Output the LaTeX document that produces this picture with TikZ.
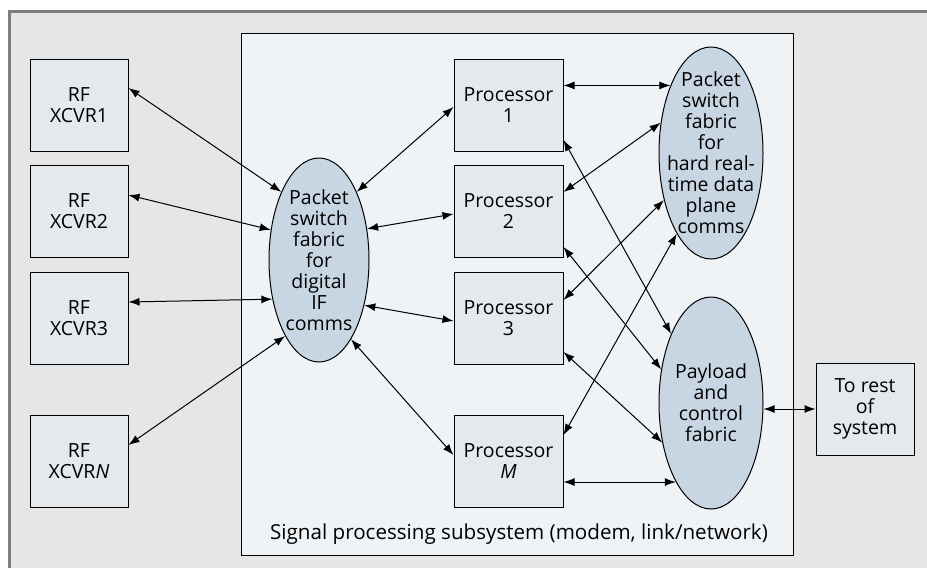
\documentclass[tikz,border=0pt]{standalone}
\usepackage{fontspec}
\setmainfont{Open Sans}
\usetikzlibrary{arrows.meta,shapes.geometric}
\definecolor{pagegray}{HTML}{E6E6E6}
\definecolor{framegray}{HTML}{7F7F7F}
\definecolor{subfill}{HTML}{EFF3F6}
\definecolor{boxfill}{HTML}{E4E9EE}
\definecolor{fabfill}{HTML}{C8D6E4}
\begin{document}
\begin{tikzpicture}[x=1pt,y=-1pt,
  font=\fontsize{19.5}{21}\selectfont,
  blk/.style={draw, fill=boxfill, minimum width=98pt, minimum height=92pt,
              inner sep=0pt, align=center, line width=1pt},
  procblk/.style={blk, minimum width=109pt},
  fab/.style={draw, ellipse, fill=fabfill, inner sep=0pt, line width=1pt},
  lbl/.style={align=center, inner sep=0pt},
  link/.style={{Latex[length=11pt,width=8pt]}-{Latex[length=11pt,width=8pt]},
               line width=1pt}]

\useasboundingbox (0,0) rectangle (927,568);

% page background with its frame on the top and left edges
\fill[pagegray] (9,11) rectangle (927,568);
\draw[framegray, line width=3pt] (9,568) -- (9,11) -- (927,11);

% signal processing subsystem
\node[draw, fill=subfill, minimum width=552pt, minimum height=522pt,
      inner sep=0pt, line width=1pt] (sub) at (517,294) {};
\node[lbl, font=\fontsize{20.6}{22}\selectfont] (sublbl) at (519,534)
  {Signal processing subsystem (modem, link/network)};

% RF transceivers
\node[blk] (rf1) at (79,105)   {RF\\XCVR1};
\node[blk] (rf2) at (79,211.5) {RF\\XCVR2};
\node[blk] (rf3) at (79,318)   {RF\\XCVR3};
\node[blk] (rfn) at (79,461.5) {RF\\XCVR\textit{N}};

% processors
\node[procblk] (p1) at (508.5,105)   {Processor\\1};
\node[procblk] (p2) at (508.5,211.5) {Processor\\2};
\node[procblk] (p3) at (508.5,318)   {Processor\\3};
\node[procblk] (pm) at (508.5,461.5) {Processor\\\textit{M}};

% fabrics
\node[fab, minimum width=100pt, minimum height=204pt] (ifc) at (319,260) {};
\node[lbl] (ifctxt) at (ifc) {Packet\\switch\\fabric\\for\\digital\\IF\\comms};

\node[fab, minimum width=104pt, minimum height=212pt] (hrt) at (711,153) {};
\node[lbl] (hrttxt) at (hrt) {Packet\\switch\\fabric\\for\\hard real-\\time data\\plane\\comms};

\node[fab, minimum width=104pt, minimum height=212pt] (pay) at (711,403) {};
\node[lbl] (paytxt) at (pay) {Payload\\and\\control\\fabric};

% rest of system
\node[blk] (rest) at (865,409) {To rest\\of\\system};

% RF transceivers <-> IF fabric
\draw[link] ([yshift=17pt]rf1.east)   -- (ifc.119.9);
\draw[link] ([yshift=16.5pt]rf2.east) -- (ifc.148.5);
\draw[link] ([yshift=16pt]rf3.east)   -- (ifc.220.4);
\draw[link] ([yshift=16.5pt]rfn.east) -- (ifc.246.4);

% IF fabric <-> processors
\draw[link] (ifc.61.4)  -- ([yshift=-2pt]p1.west);
\draw[link] (ifc.33.4)  -- ([yshift=-2.5pt]p2.west);
\draw[link] (ifc.315.6) -- ([yshift=-3pt]p3.west);
\draw[link] (ifc.292.2) -- ([yshift=6.5pt]pm.west);

% processors <-> hard real-time fabric
\draw[link] (hrt.121.6 -| p1.east)     -- (hrt.121.6);
\draw[link] ([yshift=19.5pt]p2.east)   -- (hrt.149.4);
\draw[link] ([yshift=18pt]p3.east)     -- (hrt.225);
\draw[link] ([yshift=26.5pt]pm.east)   -- (hrt.247.5);

% processors <-> payload and control fabric
\draw[link] ([yshift=-35pt]p1.east)   -- (pay.120.1);
\draw[link] ([yshift=-35.5pt]p2.east) -- (pay.146);
\draw[link] ([yshift=-34pt]p3.east)   -- (pay.219.4);
\draw[link] (pay.246.9 -| pm.east)    -- (pay.246.9);

% payload fabric <-> rest of system
\draw[link] (rest.west -| pay.east) -- (rest.west);

\end{tikzpicture}
\end{document}
